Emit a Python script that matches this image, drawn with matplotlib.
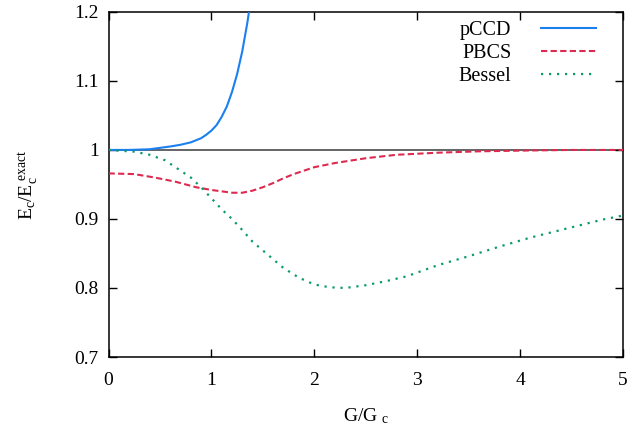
import matplotlib
matplotlib.use("Agg")
import matplotlib.pyplot as plt

# values
pccd_x = [0.0, 0.2, 0.4, 0.5, 0.6, 0.7, 0.8, 0.9, 0.95, 1.0, 1.05, 1.1, 1.15, 1.2, 1.25,
          1.3, 1.35, 1.37]
pccd_y = [1.0, 1.0, 1.001, 1.003, 1.005, 1.0075, 1.011, 1.017, 1.022, 1.028, 1.036, 1.048,
          1.063, 1.084, 1.110, 1.143, 1.185, 1.205]

pbcs_x = [0.0, 0.25, 0.45, 0.65, 0.85, 1.0, 1.1, 1.2, 1.25, 1.3, 1.4, 1.5, 1.6, 1.7, 1.8,
          1.9, 2.0, 2.2, 2.5, 2.8, 3.2, 3.6, 4.0, 4.5, 5.0]
pbcs_y = [0.966, 0.965, 0.960, 0.954, 0.946, 0.942, 0.940, 0.938, 0.938, 0.938, 0.941,
          0.946, 0.952, 0.959, 0.965, 0.970, 0.975, 0.981, 0.988, 0.993, 0.996, 0.998,
          0.999, 1.0, 1.0]

bessel_x = [0.0, 0.25, 0.4, 0.55, 0.7, 0.8, 0.9, 1.0, 1.1, 1.2, 1.3, 1.4, 1.55, 1.7, 1.85,
            2.0, 2.15, 2.3, 2.5, 2.7, 2.9, 3.2, 3.5, 3.8, 4.1, 4.45, 4.8, 5.0]
bessel_y = [1.0, 0.9975, 0.993, 0.985, 0.970, 0.960, 0.946, 0.930, 0.914, 0.900, 0.884,
            0.867, 0.848, 0.829, 0.815, 0.805, 0.801, 0.800, 0.804, 0.810, 0.817, 0.833,
            0.846, 0.860, 0.873, 0.886, 0.899, 0.905]

x_ticks = [0, 1, 2, 3, 4, 5]
y_ticks = [0.7, 0.8, 0.9, 1.0, 1.1, 1.2]
y_tick_labels = ["0.7", "0.8", "0.9", "1", "1.1", "1.2"]

plt.rcParams["font.family"] = ["Liberation Serif", "DejaVu Serif"]
plt.rcParams["mathtext.fontset"] = "custom"
plt.rcParams["mathtext.rm"] = "Liberation Serif"
plt.rcParams["mathtext.it"] = "Liberation Serif"

fig = plt.figure(figsize=(6.29, 4.25), dpi=100)
ax = fig.add_axes([0.1725, 0.16, 0.818, 0.812])

ax.axhline(1.0, color="#3a3a3a", lw=1.1, zorder=1)
ax.plot(pccd_x, pccd_y, color="#1a80f0", lw=1.5, label="pCCD", zorder=3)
ax.plot(pbcs_x, pbcs_y, color="#dc2a50", lw=1.5, dashes=(3.0, 1.6), label="PBCS", zorder=3)
ax.plot(bessel_x, bessel_y, color="#0c9a6a", lw=1.6, dashes=(1.0, 2.6), label="Bessel",
        zorder=3)

ax.set_xlim(0, 5)
ax.set_ylim(0.7, 1.2)
ax.set_xticks(x_ticks)
ax.set_xticklabels([str(t) for t in x_ticks])
ax.set_yticks(y_ticks)
ax.set_yticklabels(y_tick_labels)
ax.tick_params(direction="in", length=6, width=1.0, top=True, right=True,
               labelsize=14, colors="black")
ax.tick_params(axis="x", pad=11)
ax.tick_params(axis="y", pad=7)
for sp in ax.spines.values():
    sp.set_linewidth(1.1)

ax.set_xlabel(r"G/G $_{\mathrm{c}}$", fontsize=14, labelpad=12)
ax.set_ylabel(r"E$_{\mathrm{c}}$/E$_{\mathrm{c}}^{\mathrm{\ exact}}$", fontsize=14, labelpad=24)

ax.legend(loc="upper right", bbox_to_anchor=(0.955, 0.985), frameon=False,
          markerfirst=False, fontsize=14.5, handlelength=2.7, handletextpad=1.5,
          labelspacing=0.2, borderpad=0.2, borderaxespad=0)

fig.savefig("out.png", dpi=100)
